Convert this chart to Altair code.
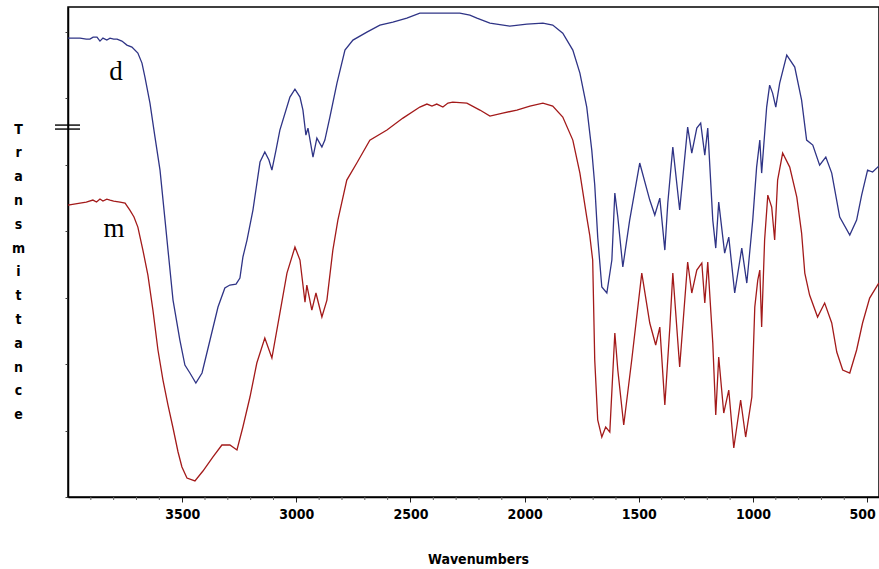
import altair as alt
import pandas as pd

# ---- data (wavenumber cm-1, transmittance in arbitrary units) ----
wn_d = [4000, 3947, 3920, 3904, 3890, 3873, 3860, 3847, 3830, 3816, 3800, 3785, 3764, 3742, 3720,
        3694, 3676, 3663, 3641, 3619, 3597, 3575, 3562, 3540, 3510, 3488, 3466, 3440, 3413,
        3378, 3343, 3313, 3291, 3264, 3247, 3234, 3216, 3190, 3159, 3138, 3120, 3107, 3089,
        3072, 3028, 3006, 2984, 2971, 2958, 2949, 2936, 2927, 2910, 2888, 2875, 2853, 2822,
        2787, 2752, 2691, 2634, 2577, 2516, 2459, 2402, 2341, 2284, 2240, 2209, 2152, 2065,
        1990, 1920, 1877, 1833, 1789, 1758, 1728, 1706, 1693, 1680, 1662, 1640, 1618, 1605,
        1592, 1570, 1540, 1496, 1452, 1430, 1408, 1386, 1373, 1351, 1321, 1286, 1268, 1246,
        1229, 1211, 1198, 1176, 1163, 1150, 1124, 1106, 1080, 1049, 1027, 1001, 984, 970,
        962, 940, 927, 914, 900, 883, 852, 817, 787, 765, 738, 708, 681, 655, 620, 576, 546,
        524, 498, 476, 449]
t_d = [69.02, 69.02, 68.87, 68.87, 69.17, 69.17, 68.57, 69.02, 68.72, 69.02, 68.87, 68.87, 68.57,
       67.97, 67.67, 66.77, 65.26, 63.16, 59.25, 54.14, 49.17, 41.65, 37.14, 29.62, 23.61,
       19.85, 18.65, 17.14, 18.65, 23.61, 28.57, 31.43, 31.88, 32.03, 32.93, 36.09, 38.65,
       43.16, 50.38, 51.88, 50.68, 49.17, 52.18, 55.19, 60.15, 61.35, 60.15, 58.20, 54.44,
       55.49, 52.93, 51.13, 53.98, 52.63, 53.68, 57.14, 62.26, 67.22, 68.72, 69.92, 70.98,
       71.43, 72.03, 72.78, 72.78, 72.78, 72.78, 72.48, 72.03, 71.28, 70.83, 71.13, 71.28,
       70.98, 69.77, 67.22, 63.76, 58.65, 52.18, 46.92, 39.10, 31.58, 30.68, 35.64, 45.71,
       42.11, 34.59, 41.65, 50.23, 44.66, 42.41, 44.96, 37.14, 44.21, 52.63, 43.16, 55.64,
       51.73, 55.49, 56.24, 51.43, 55.49, 41.65, 37.44, 44.36, 36.69, 39.10, 30.68, 37.44,
       32.18, 41.65, 49.62, 53.68, 48.72, 58.65, 61.95, 60.75, 58.65, 62.26, 66.47, 64.66,
       59.70, 53.68, 52.93, 49.92, 51.13, 48.72, 42.11, 39.40, 41.65, 45.41, 49.17, 48.87,
       49.77]

wn_m = [4000, 3947, 3920, 3891, 3875, 3860, 3847, 3830, 3816, 3800, 3772, 3750, 3729, 3711, 3694,
        3672, 3650, 3628, 3606, 3584, 3562, 3540, 3518, 3501, 3479, 3444, 3409, 3365, 3326,
        3291, 3260, 3234, 3203, 3173, 3138, 3107, 3072, 3041, 3006, 2984, 2962, 2954, 2932,
        2914, 2888, 2866, 2840, 2818, 2779, 2735, 2678, 2603, 2533, 2459, 2428, 2406, 2385,
        2358, 2336, 2315, 2253, 2196, 2152, 2096, 2034, 1977, 1920, 1877, 1833, 1789, 1758,
        1728, 1715, 1702, 1693, 1680, 1662, 1645, 1627, 1605, 1592, 1566, 1531, 1487, 1452,
        1426, 1408, 1386, 1364, 1351, 1321, 1286, 1268, 1246, 1224, 1211, 1198, 1176, 1163,
        1150, 1128, 1106, 1084, 1054, 1032, 1005, 992, 979, 970, 962, 949, 935, 918, 905,
        892, 870, 839, 808, 787, 773, 752, 717, 686, 655, 633, 607, 576, 546, 520, 489, 449]
t_m = [43.91, 44.21, 44.36, 44.66, 44.36, 44.81, 44.51, 44.81, 44.66, 44.51, 44.36, 44.21, 43.16,
       42.11, 40.60, 37.14, 33.38, 28.12, 22.11, 17.59, 13.83, 10.38, 6.77, 4.51, 2.86, 2.41,
       3.91, 6.02, 7.82, 7.82, 7.07, 10.53, 15.04, 20.15, 23.91, 20.90, 27.67, 33.68, 37.59,
       35.64, 29.32, 31.88, 28.12, 30.68, 27.07, 29.62, 37.14, 41.65, 47.67, 50.23, 53.68,
       55.19, 56.99, 58.65, 59.10, 58.80, 59.10, 58.65, 59.25, 59.40, 59.25, 58.20, 57.29,
       57.74, 58.20, 58.80, 59.25, 58.80, 57.14, 53.68, 48.72, 42.11, 39.40, 35.64, 20.60,
       11.58, 9.02, 10.53, 9.77, 24.66, 19.10, 10.83, 20.60, 33.68, 26.17, 22.86, 25.56,
       13.83, 25.56, 33.68, 19.55, 35.34, 30.68, 34.14, 35.19, 29.17, 35.34, 23.16, 12.33,
       21.05, 12.63, 16.09, 7.37, 14.59, 9.02, 15.04, 28.57, 32.63, 34.14, 25.56, 38.65,
       45.41, 43.61, 38.65, 47.67, 51.73, 49.62, 45.11, 39.70, 33.68, 30.38, 27.07, 29.17,
       26.17, 21.80, 19.10, 18.65, 22.11, 26.17, 29.92, 32.18]

series_names = ["d", "m"]
series_colors = ["#2f3486", "#a31a1a"]
label_wn = [3790, 3799]
label_t = [62.7, 39.1]

major_ticks = [3500, 3000, 2500, 2000, 1500, 1000, 500]
minor_ticks = [v for v in range(500, 4001, 100) if v % 500 != 0]
y_ticks = [0, 10, 20, 30, 40, 50, 60, 70]
break_t = [55.94, 55.34]

x_domain = [448, 4000]
y_domain = [0, 73.7]

W, H = 811, 490

df = pd.concat([
    pd.DataFrame({"wn": wn_d, "T": t_d, "s": "d", "i": range(len(wn_d))}),
    pd.DataFrame({"wn": wn_m, "T": t_m, "s": "m", "i": range(len(wn_m))}),
], ignore_index=True)
labels = pd.DataFrame({"wn": label_wn, "T": label_t, "s": series_names})
breaks = pd.DataFrame({"T": break_t})
minors = pd.DataFrame({"wn": minor_ticks})

narrow = "DejaVu Sans Condensed, Liberation Sans Narrow, sans-serif"

x_scale = alt.Scale(domain=x_domain, reverse=True, nice=False, zero=False)

x_enc = alt.X(
    "wn:Q",
    scale=x_scale,
    axis=alt.Axis(
        title="Wavenumbers",
        values=major_ticks,
        format="d",
        tickSize=5,
        tickColor="#222222",
        tickWidth=1,
        domainColor="black",
        domainWidth=1.5,
        labelFont=narrow,
        labelFontSize=14,
        labelFontWeight="bold",
        labelColor="black",
        labelBaseline="alphabetic",
        labelPadding=16,
        labelOffset={"condition": {"test": "datum.value === 500", "value": -5}, "value": 0},
        labelFlush=False,
        labelOverlap=False,
        grid=False,
        titleFont=narrow,
        titleFontSize=14,
        titleFontWeight="bold",
        titleColor="black",
        titleBaseline="alphabetic",
        titleX=410,
        titleY=66,
        titleAnchor="middle",
    ),
)

y_enc = alt.Y(
    "T:Q",
    scale=alt.Scale(domain=y_domain, nice=False, zero=False),
    axis=alt.Axis(
        title=list("Transmittance"),
        values=y_ticks,
        labels=False,
        tickSize=3,
        tickColor="#444444",
        domainColor="black",
        domainWidth=1.5,
        grid=False,
        titleAngle=0,
        titleFont=narrow,
        titleFontSize=14,
        titleFontWeight="bold",
        titleColor="black",
        titleLineHeight=23.8,
        titleAlign="center",
        titleBaseline="alphabetic",
        titleX=-50,
        titleY=126,
    ),
)

color = alt.Color(
    "s:N",
    scale=alt.Scale(domain=series_names, range=series_colors),
    legend=None,
)

lines = alt.Chart(df).mark_line(strokeWidth=1.3, interpolate="linear").encode(
    x=x_enc, y=y_enc, color=color, order="i:Q"
)

minor_rules = alt.Chart(minors).mark_rule(color="#666666", strokeWidth=1).encode(
    x=alt.X("wn:Q", scale=x_scale), y=alt.value(H), y2=alt.value(H + 3)
)

text = alt.Chart(labels).mark_text(
    font="Liberation Serif, DejaVu Serif, serif", fontSize=27, align="center",
    baseline="alphabetic", color="black"
).encode(x="wn:Q", y="T:Q", text="s:N")

brk = alt.Chart(breaks).mark_rule(color="black", strokeWidth=1.4).encode(
    y="T:Q", x=alt.value(-13), x2=alt.value(12)
)

chart = alt.layer(lines, minor_rules, text, brk).properties(
    width=W,
    height=H,
    autosize=alt.AutoSizeParams(type="none"),
    padding={"left": 68, "top": 7, "right": 0, "bottom": 72},
    background="white",
).configure_view(stroke="black", strokeWidth=1.5)

chart.save("out.html", embed_options={"renderer": "svg", "actions": False})
